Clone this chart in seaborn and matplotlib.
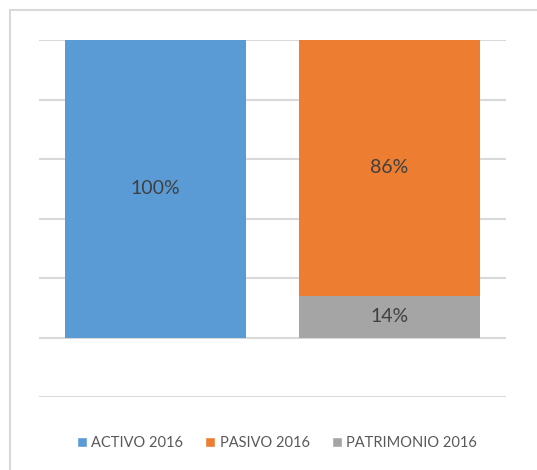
import matplotlib
matplotlib.use("Agg")
import matplotlib.pyplot as plt
import seaborn as sns
from matplotlib.patches import Patch
from matplotlib.lines import Line2D

# ---------------------------------------------------------------------------
# Data
# ---------------------------------------------------------------------------
bars = ["ACTIVO", "PASIVO + PATRIMONIO"]
series = ["ACTIVO 2016", "PASIVO 2016", "PATRIMONIO 2016"]
activo = [100]
pasivo = [86]
patrimonio = [14]
colors = {"ACTIVO 2016": "#5b9bd5", "PASIVO 2016": "#ed7d31", "PATRIMONIO 2016": "#a5a5a5"}

sns.set_style("white")
plt.rcParams["font.family"] = ["Lato", "DejaVu Sans"]

fig = plt.figure(figsize=(5.37, 4.70), dpi=100)
ax = fig.add_axes([39 / 537, 1 - 397 / 470, 467 / 537, 357 / 470])

# --- stacked bars ---
bar_kw = dict(order=bars, width=0.775, saturation=1, linewidth=0, ax=ax, zorder=2)
sns.barplot(x=[bars[0]], y=activo, color=colors["ACTIVO 2016"], **bar_kw)
sns.barplot(x=[bars[1]], y=patrimonio, color=colors["PATRIMONIO 2016"], **bar_kw)
sns.barplot(x=[bars[1]], y=pasivo, color=colors["PASIVO 2016"], bottom=patrimonio, **bar_kw)

# --- value labels ---
label_kw = dict(ha="center", va="center", fontsize=14, color="#404040", zorder=3)
ax.text(0, activo[0] / 2, f"{activo[0]}%", **label_kw)
ax.text(1, patrimonio[0] + pasivo[0] / 2, f"{pasivo[0]}%", **label_kw)
ax.text(1, patrimonio[0] / 2, f"{patrimonio[0]}%", **label_kw)

# --- axes styling ---
ax.set_xlim(-0.5, 1.5)
ax.set_ylim(-20, 100)
ax.set_yticks(range(-20, 101, 20))
ax.yaxis.grid(True, color="#d9d9d9", linewidth=1.5, zorder=0)
ax.set_axisbelow(True)
ax.tick_params(left=False, bottom=False, labelleft=False, labelbottom=False)
ax.set_xlabel("")
ax.set_ylabel("")
for s in ax.spines.values():
    s.set_visible(False)

# --- legend ---
handles = [Patch(facecolor=colors[s], label=s) for s in series]
fig.legend(handles=handles, loc="center", bbox_to_anchor=(277 / 537, 27 / 470),
           ncol=3, frameon=False, fontsize=10.5, labelcolor="#595959",
           handlelength=0.7, handleheight=0.7, handletextpad=0.3, columnspacing=1.5)

# --- chart area border ---
fig.add_artist(Line2D([10 / 537, 1], [1 - 10 / 470, 1 - 10 / 470],
                      transform=fig.transFigure, color="#d9d9d9", lw=1.5))
fig.add_artist(Line2D([10 / 537, 10 / 537], [0, 1 - 10 / 470],
                      transform=fig.transFigure, color="#d9d9d9", lw=1.5))

fig.savefig("out.png", dpi=100)
